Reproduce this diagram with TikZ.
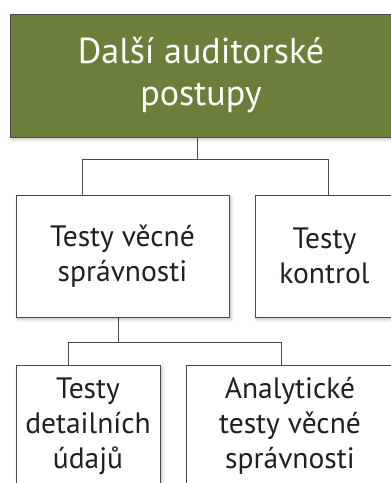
\documentclass[tikz,border=0pt]{standalone}
\usepackage{fontspec}
\setmainfont{PT Sans}
\usetikzlibrary{shadows.blur}
\definecolor{olive}{HTML}{6B7F3B}
\definecolor{edge}{HTML}{4A4A4A}
\definecolor{ink}{HTML}{231F20}
\tikzset{
  box/.style={draw=edge, line width=1pt, fill=white, align=center,
    inner sep=0pt, text=ink, font=\fontsize{29.5}{35}\selectfont,
    blur shadow={shadow xshift=2pt, shadow yshift=-2.5pt,
      shadow blur radius=3pt, shadow opacity=25}},
  headbox/.style={box, fill=olive, text=white, font=\fontsize{36}{42}\selectfont},
  link/.style={draw=edge, line width=1pt}
}
\begin{document}
\begin{tikzpicture}[x=1pt, y=-1pt]
  \useasboundingbox (0,0) rectangle (391,483);
  % root
  \node[headbox, minimum width=382pt, minimum height=123pt] (top) at (201,75.5)
    {Další auditorské\\postupy};
  % second level
  \node[box, minimum width=213pt, minimum height=122pt] (subst) at (122.5,256)
    {Testy věcné\\správnosti};
  \node[box, minimum width=139pt, minimum height=122pt] (ctrl) at (324.5,256)
    {Testy\\kontrol};
  % third level
  \node[box, minimum width=144pt, minimum height=122pt] (detail) at (88,426)
    {Testy\\detailních\\údajů};
  \node[box, minimum width=208pt, minimum height=122pt] (anal) at (290,426)
    {Analytické\\testy věcné\\správnosti};
  % connectors
  \draw[link] ([xshift=-4pt]top.south) -- ++(0,22) coordinate (bus1);
  \draw[link] ([xshift=-40.5pt]subst.north) |- (bus1) -| ([xshift=3.5pt]ctrl.north);
  \draw[link] ([xshift=-4.5pt]subst.south) -- ++(0,25) coordinate (bus2);
  \draw[link] ([xshift=-20pt]detail.north) |- (bus2) -| ([xshift=-9pt]anal.north);
\end{tikzpicture}
\end{document}
